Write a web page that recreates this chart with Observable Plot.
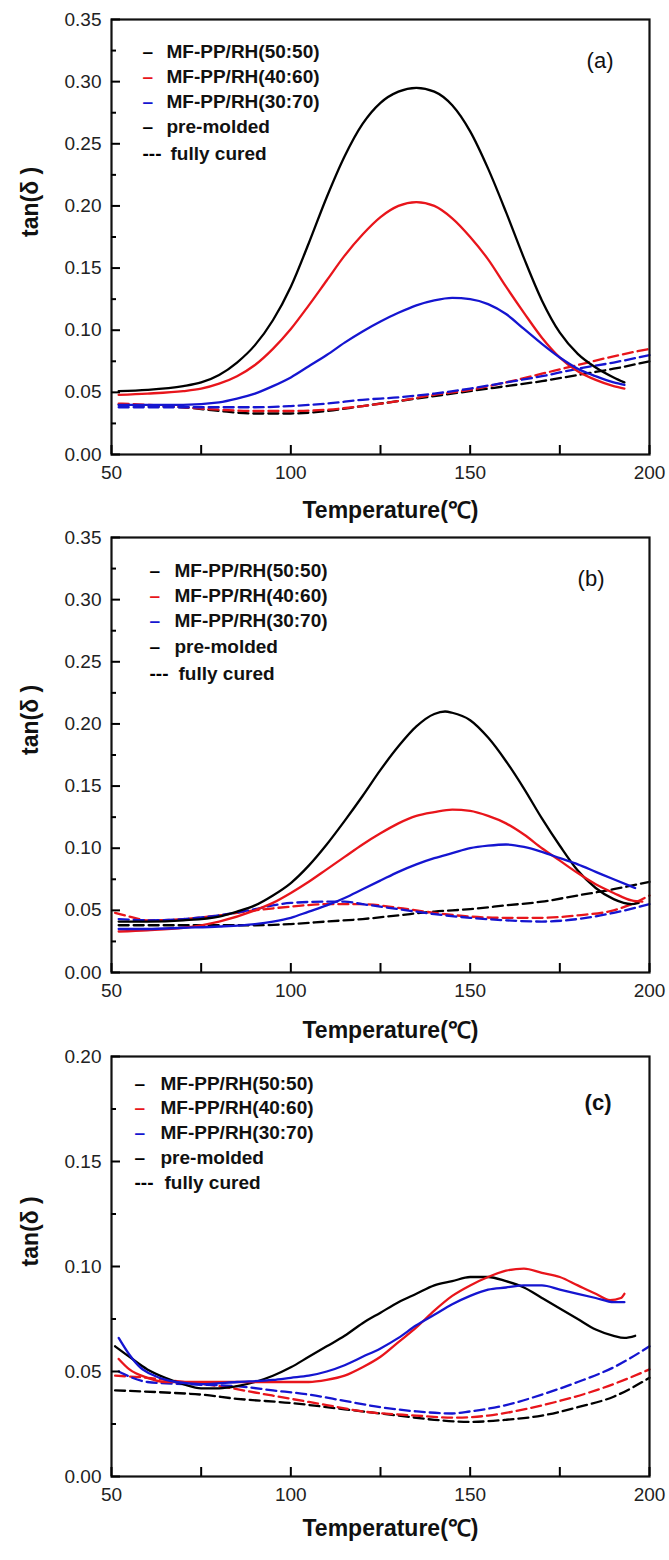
<!DOCTYPE html>
<html><head><meta charset="utf-8">
<script src="https://cdn.jsdelivr.net/npm/d3@7"></script>
<script src="https://cdn.jsdelivr.net/npm/@observablehq/plot@0.6"></script>
<style>
body{margin:0;background:#fff;width:669px;height:1560px;position:relative;overflow:hidden}
.panel{position:absolute;left:0;width:669px}
</style></head><body>
<div id="pa" class="panel" style="top:0px"></div>
<div id="pb" class="panel" style="top:524px"></div>
<div id="pc" class="panel" style="top:1044px"></div>
<script>
// ---------- legend / labels ----------
const legendLabels = ["MF-PP/RH(50:50)", "MF-PP/RH(40:60)", "MF-PP/RH(30:70)", "pre-molded", "fully cured"];
const legendSymbols = ["–", "–", "–", "–", "---"];
const legendColors = ["#000000", "#e8151b", "#1515d0", "#000000", "#000000"];
const ratios = ["50:50", "40:60", "30:70"];
const ratioColors = {"50:50": "#000000", "40:60": "#e8151b", "30:70": "#1515d0"};
const xTicks = [50, 100, 150, 200];
const xMinor = [75, 125, 175];
const yTicksAB = [0, 0.05, 0.10, 0.15, 0.20, 0.25, 0.30, 0.35];
const yMinorAB = [0.025, 0.075, 0.125, 0.175, 0.225, 0.275, 0.325];
const yTicksC = [0, 0.05, 0.10, 0.15, 0.20];
const yMinorC = [0.025, 0.075, 0.125, 0.175];

// ---------- panel (a) ----------
const a_5050_pre = [[52,0.051],[60,0.052],[70,0.055],[75,0.058],[80,0.064],[85,0.074],[90,0.088],[95,0.108],[100,0.135],[105,0.170],[110,0.207],[115,0.240],[120,0.266],[125,0.283],[130,0.292],[135,0.295],[140,0.292],[145,0.281],[150,0.260],[155,0.230],[160,0.195],[165,0.158],[170,0.124],[175,0.098],[180,0.081],[185,0.070],[190,0.062],[193,0.058]];
const a_4060_pre = [[52,0.048],[60,0.049],[70,0.051],[75,0.053],[80,0.057],[85,0.063],[90,0.072],[95,0.085],[100,0.101],[105,0.120],[110,0.140],[115,0.160],[120,0.177],[125,0.191],[130,0.200],[135,0.203],[140,0.200],[145,0.190],[150,0.175],[155,0.157],[160,0.135],[165,0.114],[170,0.094],[175,0.078],[180,0.067],[185,0.060],[190,0.055],[193,0.053]];
const a_3070_pre = [[52,0.040],[60,0.040],[70,0.040],[80,0.042],[85,0.045],[90,0.049],[95,0.055],[100,0.062],[105,0.071],[110,0.080],[115,0.090],[120,0.099],[125,0.107],[130,0.114],[135,0.120],[140,0.124],[145,0.126],[150,0.125],[155,0.121],[160,0.113],[165,0.101],[170,0.089],[175,0.078],[180,0.069],[185,0.063],[190,0.058],[193,0.056]];
const a_5050_cur = [[52,0.040],[60,0.039],[70,0.038],[80,0.035],[90,0.033],[100,0.033],[110,0.035],[120,0.039],[130,0.043],[140,0.047],[150,0.051],[160,0.055],[170,0.059],[180,0.064],[190,0.069],[200,0.075]];
const a_4060_cur = [[52,0.041],[60,0.040],[70,0.038],[80,0.036],[90,0.035],[100,0.035],[110,0.036],[120,0.039],[130,0.043],[140,0.048],[150,0.052],[160,0.058],[170,0.065],[180,0.072],[190,0.079],[200,0.085]];
const a_3070_cur = [[52,0.038],[60,0.038],[70,0.038],[80,0.038],[90,0.038],[100,0.039],[110,0.041],[120,0.044],[130,0.046],[140,0.049],[150,0.053],[160,0.058],[170,0.063],[180,0.069],[190,0.074],[200,0.080]];

// ---------- panel (b) ----------
const b_5050_pre = [[52,0.041],[60,0.041],[70,0.042],[80,0.045],[85,0.049],[90,0.054],[95,0.062],[100,0.072],[105,0.086],[110,0.103],[115,0.122],[120,0.142],[125,0.163],[130,0.182],[135,0.198],[140,0.208],[143,0.210],[145,0.209],[150,0.203],[155,0.189],[160,0.170],[165,0.148],[170,0.124],[175,0.102],[180,0.082],[185,0.068],[190,0.059],[195,0.055],[197,0.056]];
const b_4060_pre = [[52,0.033],[60,0.034],[70,0.036],[80,0.041],[90,0.050],[95,0.056],[100,0.064],[105,0.073],[110,0.083],[115,0.093],[120,0.103],[125,0.112],[130,0.120],[135,0.126],[140,0.129],[145,0.131],[150,0.130],[155,0.126],[160,0.120],[165,0.111],[170,0.100],[175,0.090],[180,0.080],[185,0.071],[190,0.064],[195,0.058],[198,0.057]];
const b_3070_pre = [[52,0.035],[60,0.035],[70,0.036],[80,0.037],[90,0.039],[95,0.041],[100,0.044],[105,0.049],[110,0.054],[115,0.060],[120,0.067],[125,0.074],[130,0.081],[135,0.087],[140,0.092],[145,0.096],[150,0.100],[155,0.102],[160,0.103],[165,0.101],[170,0.097],[175,0.092],[180,0.087],[185,0.081],[190,0.075],[196,0.068]];
const b_5050_cur = [[52,0.038],[60,0.038],[70,0.038],[80,0.038],[90,0.038],[100,0.039],[110,0.041],[120,0.043],[130,0.046],[140,0.049],[150,0.051],[160,0.054],[170,0.057],[180,0.062],[190,0.067],[200,0.073]];
const b_4060_cur = [[51,0.048],[55,0.045],[60,0.042],[70,0.043],[80,0.046],[90,0.050],[100,0.053],[110,0.055],[120,0.055],[130,0.052],[140,0.048],[150,0.045],[160,0.044],[170,0.044],[180,0.046],[190,0.050],[195,0.055],[200,0.062]];
const b_3070_cur = [[52,0.043],[60,0.042],[70,0.043],[80,0.046],[90,0.051],[95,0.054],[100,0.056],[110,0.057],[115,0.057],[120,0.055],[130,0.051],[140,0.047],[150,0.044],[160,0.042],[170,0.041],[180,0.043],[190,0.048],[200,0.055]];

// ---------- panel (c) ----------
const c_5050_pre = [[51,0.062],[55,0.057],[60,0.051],[65,0.047],[70,0.044],[75,0.042],[80,0.042],[85,0.043],[90,0.045],[95,0.048],[100,0.052],[105,0.057],[110,0.062],[115,0.067],[120,0.073],[125,0.078],[130,0.083],[135,0.087],[140,0.091],[145,0.093],[150,0.095],[155,0.095],[160,0.093],[165,0.090],[170,0.085],[175,0.080],[180,0.075],[185,0.070],[190,0.067],[193,0.066],[196,0.067]];
const c_4060_pre = [[52,0.056],[55,0.051],[60,0.047],[65,0.045],[70,0.045],[80,0.045],[90,0.045],[100,0.045],[105,0.045],[110,0.046],[115,0.048],[120,0.052],[125,0.057],[130,0.064],[135,0.071],[140,0.079],[145,0.086],[150,0.091],[155,0.095],[160,0.098],[165,0.099],[170,0.097],[175,0.095],[180,0.091],[185,0.087],[189,0.084],[192,0.085],[193,0.087]];
const c_3070_pre = [[52,0.066],[55,0.058],[58,0.052],[62,0.048],[68,0.045],[75,0.044],[85,0.045],[95,0.046],[100,0.047],[105,0.048],[110,0.050],[115,0.053],[120,0.057],[125,0.061],[130,0.066],[135,0.072],[140,0.077],[145,0.082],[150,0.086],[155,0.089],[160,0.090],[165,0.091],[170,0.091],[175,0.089],[180,0.087],[185,0.085],[190,0.083],[193,0.083]];
const c_5050_cur = [[51,0.041],[65,0.040],[75,0.039],[85,0.037],[100,0.035],[115,0.032],[130,0.029],[140,0.027],[150,0.026],[160,0.027],[170,0.029],[180,0.033],[190,0.038],[200,0.047]];
const c_4060_cur = [[51,0.048],[60,0.047],[70,0.045],[80,0.043],[90,0.040],[100,0.037],[110,0.034],[120,0.031],[135,0.029],[145,0.028],[155,0.029],[165,0.032],[175,0.036],[185,0.041],[193,0.046],[200,0.051]];
const c_3070_cur = [[52,0.050],[60,0.045],[70,0.044],[85,0.043],[95,0.041],[105,0.039],[115,0.036],[125,0.033],[135,0.031],[145,0.030],[150,0.031],[160,0.034],[170,0.039],[180,0.045],[190,0.052],[200,0.062]];

const panels = [
  {id: "pa", tag: "(a)", tagBold: false, yMax: 0.35, yTicks: yTicksAB, yMinor: yMinorAB, h: 524,
   mt: 19, mb: 70, xlabDy: 56, legDx: 31, legTx: 55, legCurTx: 59, legRows: [32, 57, 82, 107, 134], tagDx: -36, tagDy: 41,
   pre: [a_5050_pre, a_4060_pre, a_3070_pre], cur: [a_5050_cur, a_4060_cur, a_3070_cur]},
  {id: "pb", tag: "(b)", tagBold: false, yMax: 0.35, yTicks: yTicksAB, yMinor: yMinorAB, h: 520,
   mt: 13, mb: 72, xlabDy: 58, legDx: 38, legTx: 63, legCurTx: 67, legRows: [33, 58, 83, 109, 136], tagDx: -45, tagDy: 41,
   pre: [b_5050_pre, b_4060_pre, b_3070_pre], cur: [b_5050_cur, b_4060_cur, b_3070_cur]},
  {id: "pc", tag: "(c)", tagBold: true, yMax: 0.20, yTicks: yTicksC, yMinor: yMinorC, h: 516,
   mt: 12, mb: 84, xlabDy: 52, legDx: 23, legTx: 49, legCurTx: 53, legRows: [27, 51, 76, 101, 126], tagDx: -38, tagDy: 46,
   pre: [c_5050_pre, c_4060_pre, c_3070_pre], cur: [c_5050_cur, c_4060_cur, c_3070_cur]}
];

const FONT = "Liberation Sans, Arial, sans-serif";

function rowsOf(list) {
  const out = [];
  list.forEach((pts, i) => pts.forEach(([T, v]) => out.push({ratio: ratios[i], T, v})));
  return out;
}

for (const p of panels) {
  const pre = rowsOf(p.pre);
  const cur = rowsOf(p.cur);
  const marks = [
    Plot.line(cur, {x: "T", y: "v", z: "ratio", stroke: d => ratioColors[d.ratio], strokeWidth: 2.3, strokeDasharray: "10,5", curve: "monotone-x"}),
    Plot.line(pre, {x: "T", y: "v", z: "ratio", stroke: d => ratioColors[d.ratio], strokeWidth: 2.3, curve: "monotone-x"}),
    Plot.frame({stroke: "#111", strokeWidth: 2.2}),
    Plot.axisY(p.yTicks, {anchor: "left", tickSize: 9, dx: 9, text: null, strokeWidth: 2, label: null}),
    Plot.axisY(p.yMinor, {anchor: "left", tickSize: 5, dx: 5, text: null, strokeWidth: 2, label: null}),
    Plot.axisY(p.yTicks, {anchor: "left", tickSize: 0, tickPadding: 10, tickFormat: d3.format(".2f"), fontSize: 19, fill: "#222", label: null}),
    Plot.axisX(xTicks, {anchor: "bottom", tickSize: 9, dy: -9, text: null, strokeWidth: 2, label: null}),
    Plot.axisX(xMinor, {anchor: "bottom", tickSize: 9, dy: -9, text: null, strokeWidth: 2, label: null}),
    Plot.axisX(xTicks, {anchor: "bottom", tickSize: 0, tickPadding: 11, fontSize: 19, fill: "#222", label: null}),
    Plot.text(["tan(δ )"], {frameAnchor: "left", dx: -81, rotate: -90, fontSize: 23, fontWeight: "bold", fill: "#111"}),
    Plot.text(["Temperature(℃)"], {frameAnchor: "bottom", dx: 10, dy: p.xlabDy, lineAnchor: "middle", fontSize: 23, fontWeight: "bold", fill: "#111"}),
    Plot.text([p.tag], {frameAnchor: "top-right", dx: p.tagDx, dy: p.tagDy, textAnchor: "end", lineAnchor: "middle", fontSize: 22, fontWeight: p.tagBold ? "bold" : "normal", fill: "#111"})
  ];
  legendLabels.forEach((lab, i) => {
    marks.push(Plot.text([legendSymbols[i]], {frameAnchor: "top-left", dx: p.legDx, dy: p.legRows[i], textAnchor: "start", lineAnchor: "middle", fontSize: 19, fontWeight: "bold", fill: legendColors[i]}));
    marks.push(Plot.text([lab], {frameAnchor: "top-left", dx: i === 4 ? p.legCurTx : p.legTx, dy: p.legRows[i], textAnchor: "start", lineAnchor: "middle", fontSize: 19, fontWeight: "bold", fill: "#111"}));
  });
  const chart = Plot.plot({
    width: 669, height: p.h,
    marginLeft: 111, marginRight: 20, marginTop: p.mt, marginBottom: p.mb,
    style: {fontFamily: FONT, background: "transparent"},
    x: {domain: [50, 200]},
    y: {domain: [0, p.yMax]},
    marks
  });
  document.getElementById(p.id).appendChild(chart);
}
</script>
</body></html>
